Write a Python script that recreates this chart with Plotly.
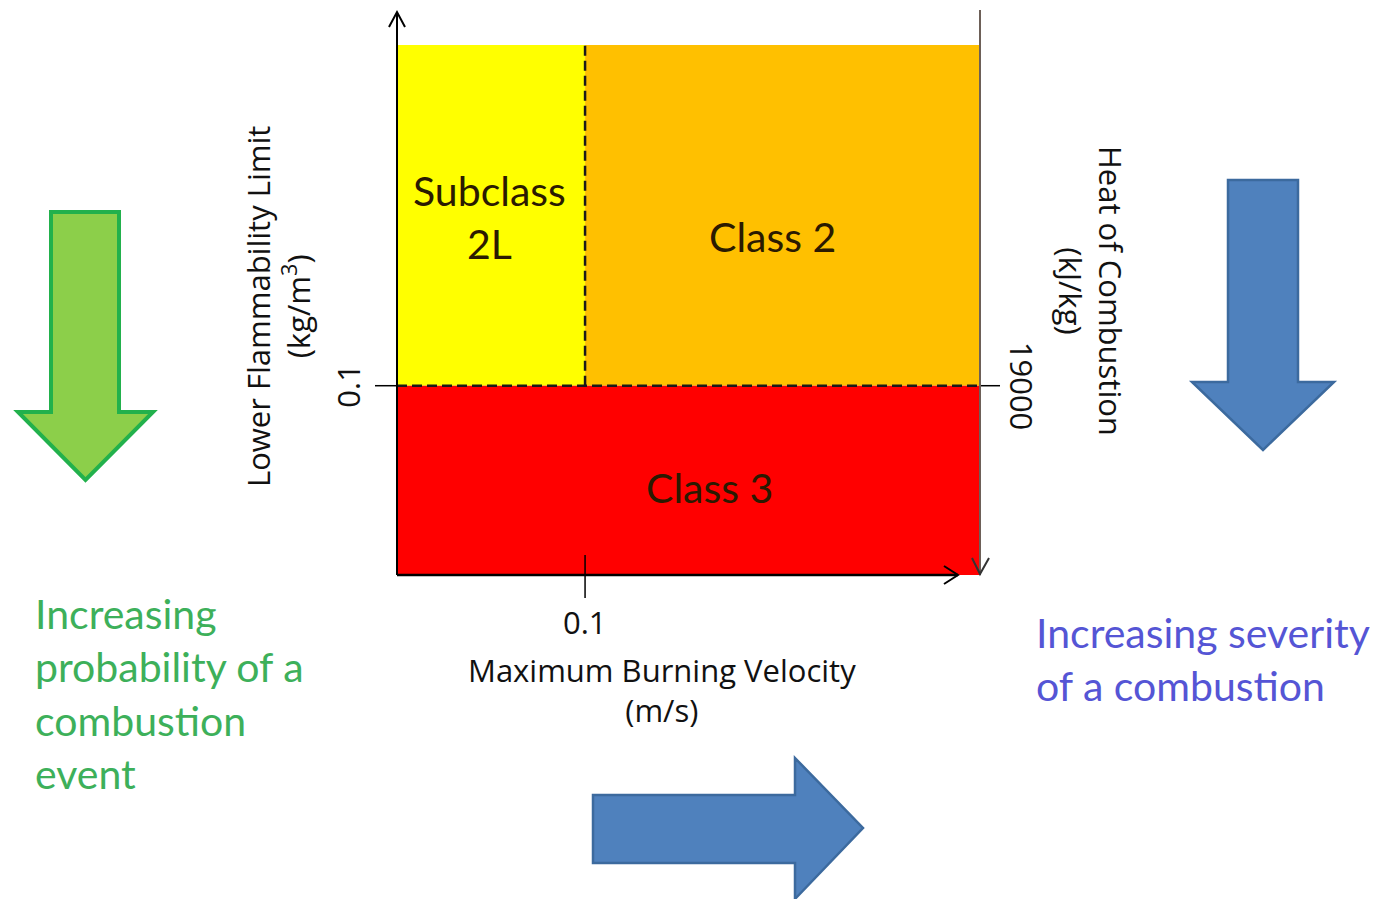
import plotly.graph_objects as go

# ---------------- data ----------------
X_THRESHOLD = 0.1          # maximum burning velocity, m/s
Y_THRESHOLD = 0.1          # lower flammability limit, kg/m3
HEAT_THRESHOLD = 19000     # heat of combustion, kJ/kg
X_MAX = 0.31
Y_MAX = 0.28
region_names = ["Subclass<br>2L", "Class 2", "Class 3"]
region_x0 = [0.0, X_THRESHOLD, 0.0]
region_x1 = [X_THRESHOLD, X_MAX, X_MAX]
region_y0 = [Y_THRESHOLD, Y_THRESHOLD, 0.0]
region_y1 = [Y_MAX, Y_MAX, Y_THRESHOLD]
region_colors = ["#FFFF00", "#FFC000", "#FF0000"]
region_label_x = [0.0494, 0.1994, 0.1664]
region_label_y = [0.1889, 0.1786, 0.046]
x_title = "Maximum Burning Velocity<br>(m/s)"
y_title = "Lower Flammability Limit<br>(kg/m<sup>3</sup>)"
y2_title = "Heat of Combustion<br>(kJ/kg)"
left_note = "Increasing<br>probability of a<br>combustion<br>event"
right_note = "Increasing severity<br>of a combustion"

W, H = 1389, 899
OFF = 8                     # page body margin
L, R, T, B = 397, 980, 45, 575   # plot box in window pixels


def px(x):
    return (x - L) / (R - L)


def py(y):
    return (B - y) / (B - T)


fig = go.Figure()
fig.add_trace(go.Scatter(x=[0, X_MAX], y=[0, Y_MAX], mode="markers",
                         marker=dict(opacity=0), hoverinfo="skip", showlegend=False))

shapes = []
for x0, x1, y0, y1, c in zip(region_x0, region_x1, region_y0, region_y1, region_colors):
    shapes.append(dict(type="rect", xref="x", yref="y", x0=x0, x1=x1, y0=y0, y1=y1,
                       fillcolor=c, line=dict(width=0), layer="below"))

# dashed threshold lines
DASH = "10px,5px"
shapes.append(dict(type="line", xref="x", yref="y", x0=0, x1=X_MAX, y0=Y_THRESHOLD, y1=Y_THRESHOLD,
                   line=dict(color="#1a1a1a", width=2.5, dash=DASH)))
shapes.append(dict(type="line", xref="x", yref="y", x0=X_THRESHOLD, x1=X_THRESHOLD, y0=Y_THRESHOLD, y1=Y_MAX,
                   line=dict(color="#1a1a1a", width=2.5, dash=DASH)))
# ticks (solid)
shapes.append(dict(type="line", xref="paper", yref="y", x0=px(375), x1=0, y0=Y_THRESHOLD, y1=Y_THRESHOLD,
                   line=dict(color="black", width=1.5)))
shapes.append(dict(type="line", xref="paper", yref="y", x0=1, x1=px(1000), y0=Y_THRESHOLD, y1=Y_THRESHOLD,
                   line=dict(color="black", width=1.5)))
shapes.append(dict(type="line", xref="x", yref="paper", x0=X_THRESHOLD, x1=X_THRESHOLD, y0=py(555), y1=py(598),
                   line=dict(color="black", width=1.5)))

# axes lines
shapes.append(dict(type="line", xref="paper", yref="paper", x0=0, x1=0, y0=0, y1=py(12),
                   line=dict(color="black", width=2)))
shapes.append(dict(type="path", xref="paper", yref="paper",
                   path=f"M {px(389)},{py(27)} L {px(397)},{py(12)} L {px(405)},{py(27)}",
                   line=dict(color="black", width=2)))
shapes.append(dict(type="line", xref="paper", yref="paper", x0=0, x1=px(958), y0=0, y1=0,
                   line=dict(color="black", width=2.5)))
shapes.append(dict(type="path", xref="paper", yref="paper",
                   path=f"M {px(944)},{py(566)} L {px(958)},{py(575)} L {px(944)},{py(584)}",
                   line=dict(color="black", width=2)))
shapes.append(dict(type="line", xref="paper", yref="paper", x0=1, x1=1, y0=py(575), y1=py(10),
                   line=dict(color="#6d6058", width=2)))
shapes.append(dict(type="path", xref="paper", yref="paper",
                   path=f"M {px(972)},{py(558)} L {px(980)},{py(574)} L {px(989)},{py(558)}",
                   line=dict(color="#333333", width=2)))


def down_arrow(xl, xr, ytop, yhead, hl, hr, ytip, fill, line, lw):
    xc = (hl + hr) / 2
    p = (f"M {px(xl)},{py(ytop)} L {px(xr)},{py(ytop)} L {px(xr)},{py(yhead)} L {px(hr)},{py(yhead)} "
         f"L {px(xc)},{py(ytip)} L {px(hl)},{py(yhead)} L {px(xl)},{py(yhead)} Z")
    return dict(type="path", xref="paper", yref="paper", path=p, fillcolor=fill,
                line=dict(color=line, width=lw))


shapes.append(down_arrow(51, 119, 212, 412, 18, 153, 480, "#8CCF4A", "#22B14C", 4))
shapes.append(down_arrow(1228, 1298, 180, 382, 1192, 1334, 450, "#4F81BD", "#3C6A9E", 2.5))
# right-pointing arrow
p = (f"M {px(593)},{py(795)} L {px(795)},{py(795)} L {px(795)},{py(758)} L {px(863)},{py(828)} "
     f"L {px(795)},{py(899)} L {px(795)},{py(863)} L {px(593)},{py(863)} Z")
shapes.append(dict(type="path", xref="paper", yref="paper", path=p, fillcolor="#4F81BD",
                   line=dict(color="#3C6A9E", width=2.5)))

ann = []
region_fonts = [41, 41, 41]
for name, lx, ly, fs in zip(region_names, region_label_x, region_label_y, region_fonts):
    ann.append(dict(x=lx, y=ly, xref="x", yref="y", text=name, showarrow=False,
                    xanchor="center", yanchor="middle",
                    font=dict(family="Lato", size=fs, color="#2b1a00"), align="center"))

axis_font = dict(family="Open Sans", size=31, color="#111111")
C = dict(showarrow=False, xanchor="center", yanchor="middle")
ann.append(dict(x=X_THRESHOLD, xref="x", y=py(622), yref="paper", text=str(X_THRESHOLD),
                font=axis_font, **C))
ann.append(dict(x=px(348), xref="paper", y=Y_THRESHOLD, yref="y", text=str(Y_THRESHOLD),
                font=axis_font, textangle=-90, **C))
ann.append(dict(x=px(1022), xref="paper", y=Y_THRESHOLD, yref="y", text=str(HEAT_THRESHOLD),
                font=axis_font, textangle=90, **C))
ann.append(dict(x=px(662), xref="paper", y=py(690), yref="paper", text=x_title,
                font=axis_font, align="center", **C))
ann.append(dict(x=px(278), xref="paper", y=py(307), yref="paper", text=y_title,
                font=axis_font, align="center", textangle=-90, **C))
ann.append(dict(x=px(1091), xref="paper", y=py(291), yref="paper", text=y2_title,
                font=axis_font, align="center", textangle=90, **C))

ann.append(dict(x=px(33), xref="paper", y=py(693), yref="paper", text=left_note, showarrow=False,
                xanchor="left", yanchor="middle", align="left",
                font=dict(family="Lato", size=41, color="#3DB05A")))
ann.append(dict(x=px(1034), xref="paper", y=py(659), yref="paper", text=right_note, showarrow=False,
                xanchor="left", yanchor="middle", align="left",
                font=dict(family="Lato", size=41, color="#5555D5")))

fig.update_layout(
    width=W, height=H,
    margin=dict(l=L - OFF, r=W - (R - OFF), t=T - OFF, b=H - (B - OFF), pad=0),
    paper_bgcolor="white", plot_bgcolor="white",
    xaxis=dict(range=[0, X_MAX], visible=False, fixedrange=True),
    yaxis=dict(range=[0, Y_MAX], visible=False, fixedrange=True),
    shapes=shapes, annotations=ann, showlegend=False,
)

fig.write_html("out.html")
